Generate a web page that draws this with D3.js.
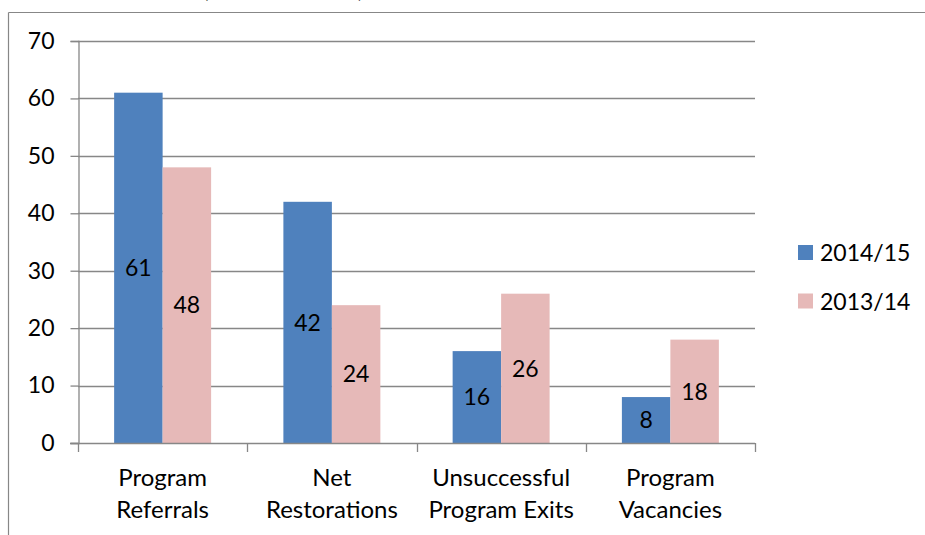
<!DOCTYPE html>
<html>
<head>
<meta charset="utf-8">
<script src="https://cdn.jsdelivr.net/npm/d3@7"></script>
<style>
  html, body { margin: 0; padding: 0; background: #fff; }
  svg { display: block; }
  text { font-family: Lato, "Open Sans", sans-serif; fill: #000; }
</style>
</head>
<body>
<svg id="chart" width="925" height="535"></svg>
<script>
const categories = [["Program", "Referrals"], ["Net", "Restorations"], ["Unsuccessful", "Program Exits"], ["Program", "Vacancies"]];
const seriesNames = ["2014/15", "2013/14"];
const values2014 = [61, 42, 16, 8];
const values2013 = [48, 24, 26, 18];
const yTicks = [0, 10, 20, 30, 40, 50, 60, 70];
const colors = ["#4F81BD", "#E6B9B8"];

(function () {
const svg = d3.select("#chart");
const gridColor = "#878787";
const fontSize = 23;

svg.append("rect").attr("width", 925).attr("height", 535).attr("fill", "#fff");

// outer frame (only top and left visible)
svg.append("line").attr("x1", 8.5).attr("x2", 925).attr("y1", 12.5).attr("y2", 12.5)
  .attr("stroke", gridColor).attr("stroke-width", 1.2);
svg.append("line").attr("x1", 8.5).attr("x2", 8.5).attr("y1", 12.5).attr("y2", 535)
  .attr("stroke", gridColor).attr("stroke-width", 1.2);

// cut-off title parentheses (the reference title is clipped at the top edge)
svg.append("text").attr("x", 203).attr("y", -2).attr("font-size", 20).text("(");
svg.append("text").attr("x", 358).attr("y", -2).attr("font-size", 20).text(")");

const pLeft = 78, pRight = 755, pTop = 41, pBottom = 443;
const y = d3.scaleLinear().domain([0, 70]).range([pBottom, pTop]);
const catIdx = d3.range(categories.length);
const x0 = d3.scaleBand().domain(catIdx).range([pLeft, pRight]).paddingInner(0.427).paddingOuter(0.2135);
const x1 = d3.scaleBand().domain(seriesNames).range([0, x0.bandwidth()]);

// gridlines
svg.append("g").selectAll("line").data(yTicks.filter(d => d > 0)).join("line")
  .attr("x1", pLeft).attr("x2", pRight)
  .attr("y1", d => Math.round(y(d)) + 0.5).attr("y2", d => Math.round(y(d)) + 0.5)
  .attr("stroke", gridColor).attr("stroke-width", 1.3);

// Y axis
const yAxis = d3.axisLeft(y).tickValues(yTicks).tickSize(8).tickPadding(16).tickFormat(d3.format("d"));
const gy = svg.append("g").attr("transform", `translate(${pLeft + 0.5},0)`).call(yAxis);
gy.select(".domain").attr("stroke", gridColor).attr("stroke-width", 1.3);
gy.selectAll(".tick line").attr("stroke", gridColor).attr("stroke-width", 1.3);
gy.selectAll(".tick text").attr("font-size", fontSize).attr("font-family", "Lato, sans-serif").attr("fill", "#000");

// bars
const series = [values2014, values2013];
const barG = svg.append("g");
series.forEach((vals, si) => {
  barG.selectAll(null).data(vals).join("rect")
    .attr("x", (d, i) => x0(i) + x1(seriesNames[si]))
    .attr("y", d => y(d))
    .attr("width", x1.bandwidth())
    .attr("height", d => y(0) - y(d))
    .attr("fill", colors[si]);
});

// X axis line
svg.append("line").attr("x1", 70).attr("x2", pRight).attr("y1", pBottom + 0.5).attr("y2", pBottom + 0.5)
  .attr("stroke", gridColor).attr("stroke-width", 1.3);
// category boundary ticks
const boundaries = d3.range(categories.length + 1).map(i => pLeft + i * (pRight - pLeft) / categories.length);
svg.append("g").selectAll("line").data(boundaries).join("line")
  .attr("x1", d => Math.round(d) + 0.5).attr("x2", d => Math.round(d) + 0.5)
  .attr("y1", pBottom).attr("y2", pBottom + 9)
  .attr("stroke", gridColor).attr("stroke-width", 1.3);

// data labels
series.forEach((vals, si) => {
  svg.append("g").selectAll("text").data(vals).join("text")
    .attr("x", (d, i) => x0(i) + x1(seriesNames[si]) + x1.bandwidth() / 2)
    .attr("y", d => (y(d) + y(0)) / 2)
    .attr("dy", "0.36em")
    .attr("text-anchor", "middle")
    .attr("font-size", fontSize)
    .text(d => d);
});

// category labels
const catG = svg.append("g");
categories.forEach((lines, i) => {
  const cx = x0(i) + x0.bandwidth() / 2;
  lines.forEach((ln, li) => {
    catG.append("text").attr("x", cx).attr("y", 486 + li * 32)
      .attr("text-anchor", "middle").attr("font-size", 24).text(ln);
  });
});

// legend
const legend = svg.append("g");
seriesNames.forEach((name, i) => {
  const ly = 245 + i * 48.5;
  legend.append("rect").attr("x", 798).attr("y", ly).attr("width", 15).attr("height", 15).attr("fill", colors[i]);
  legend.append("text").attr("x", 820).attr("y", ly + 16).attr("font-size", fontSize).text(name);
});
})();
</script>
</body>
</html>
